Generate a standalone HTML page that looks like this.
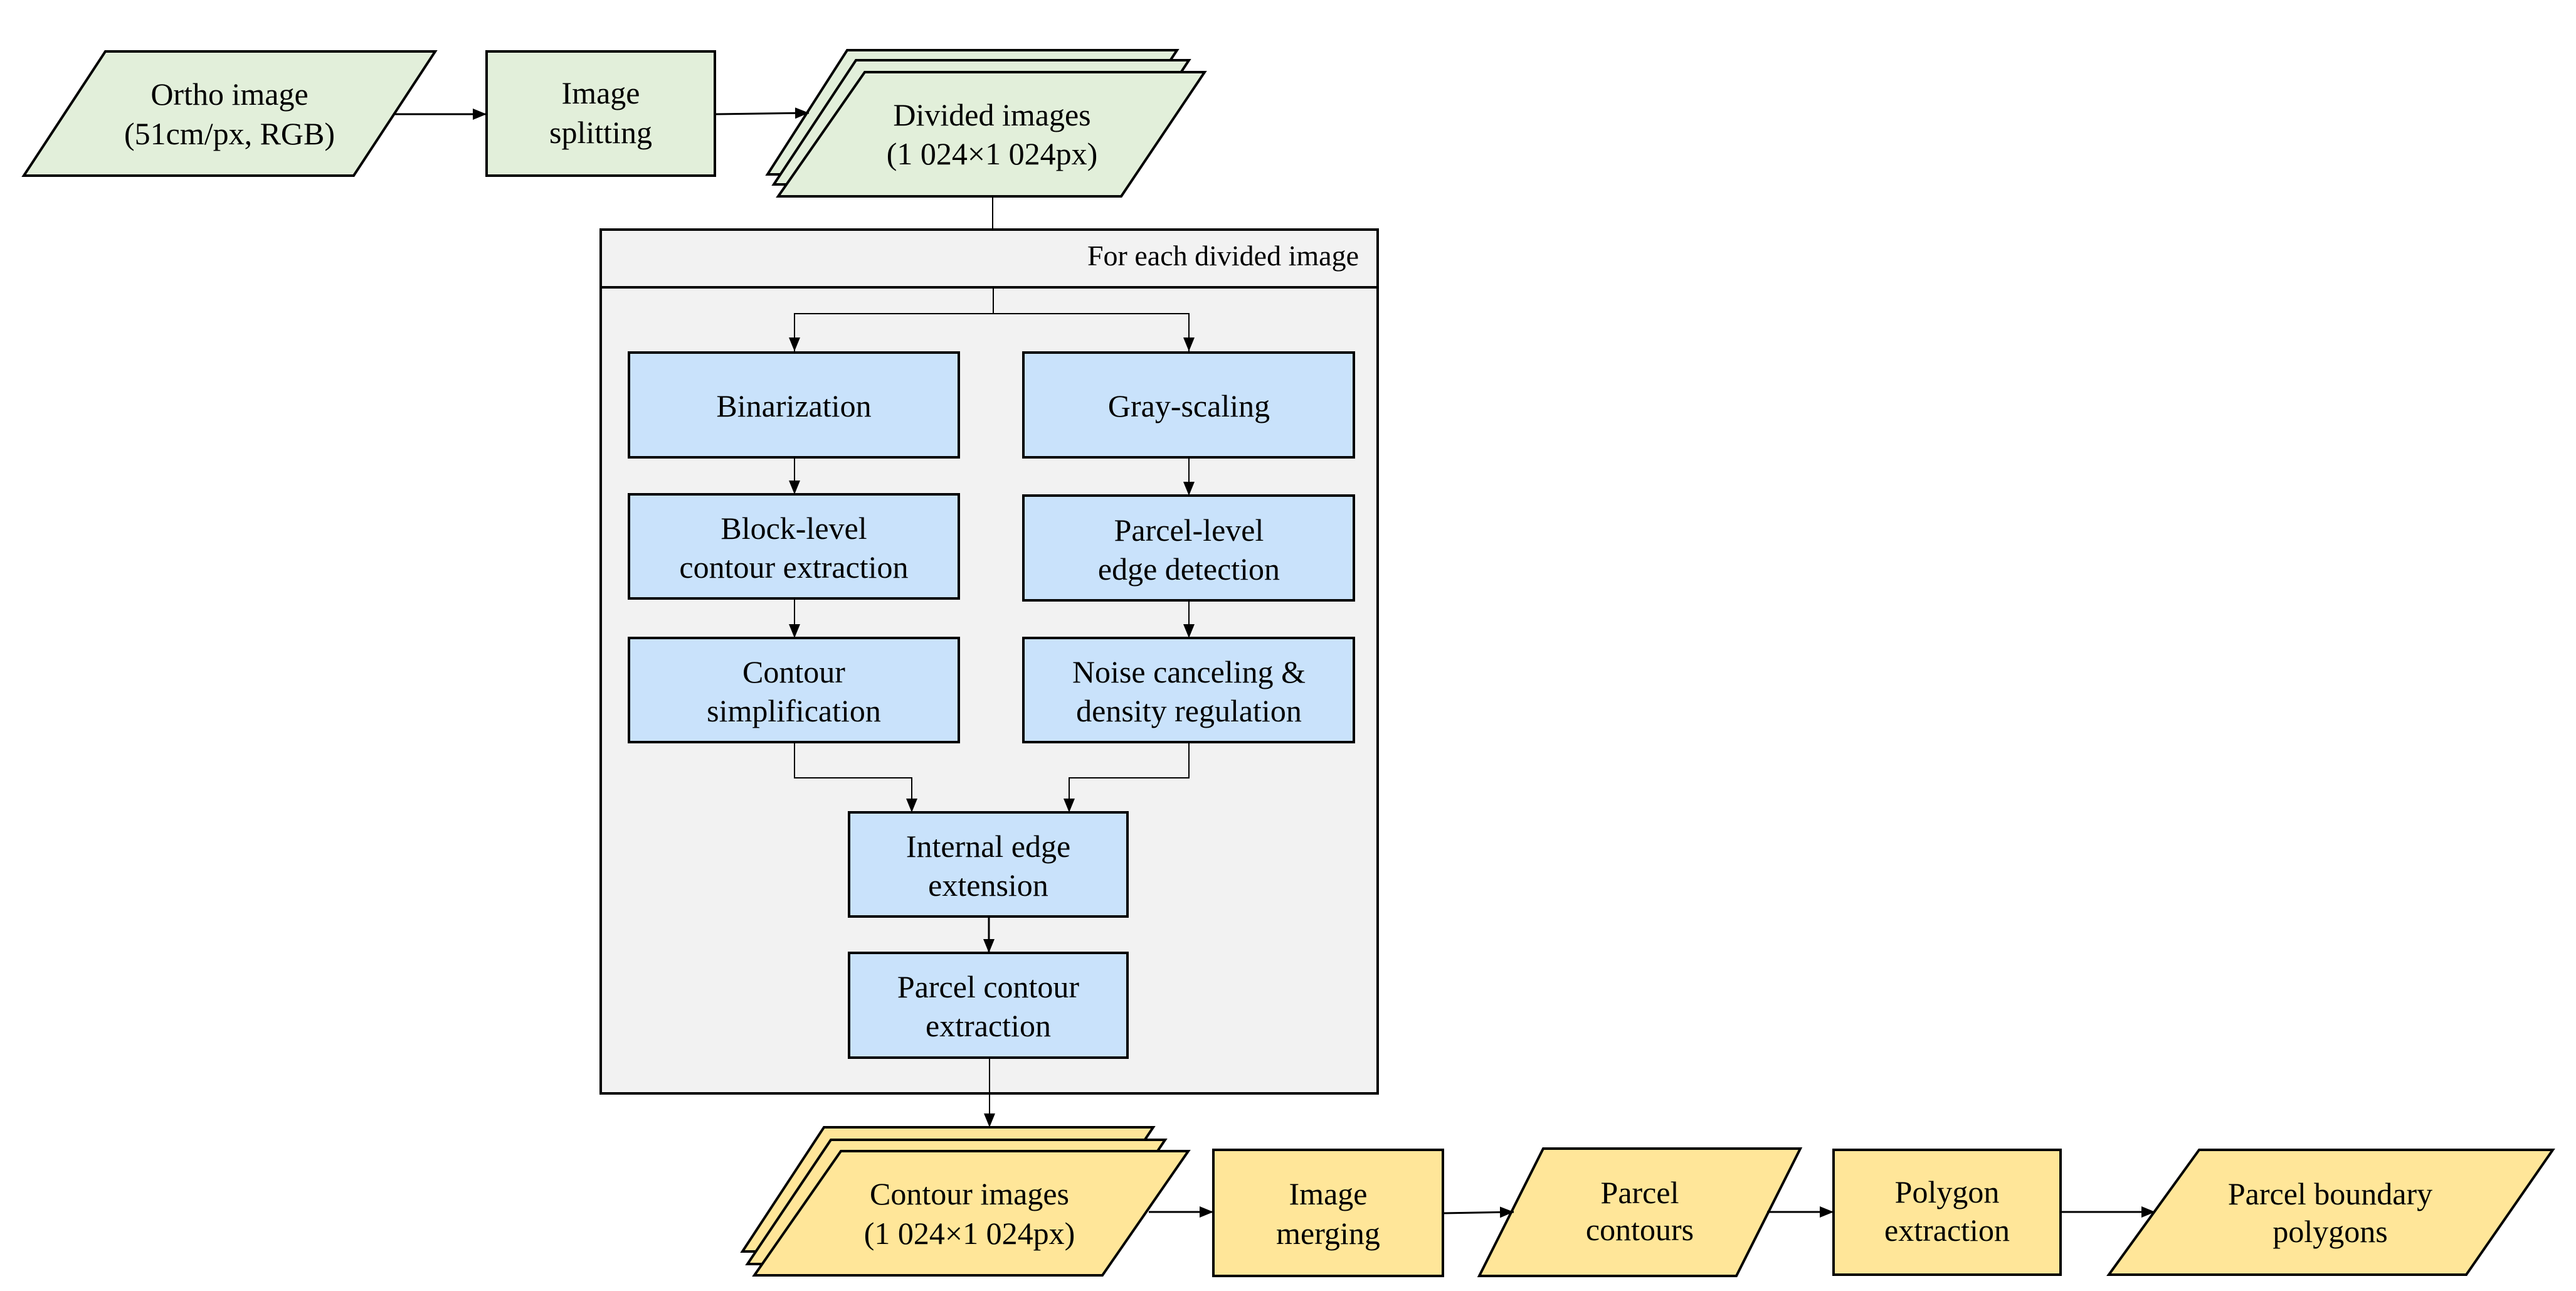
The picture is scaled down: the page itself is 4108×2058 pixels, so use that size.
<!DOCTYPE html>
<html><head><meta charset="utf-8"><style>
html,body{margin:0;padding:0;background:#fff}
svg{display:block}
text{font-family:"Liberation Serif",serif;fill:#000}
.o{font-size:50px}
.i{font-size:50px}
</style></head><body>
<svg width="4108" height="2058" viewBox="0 0 4108 2058" xmlns="http://www.w3.org/2000/svg">
<defs>
<marker id="a" markerWidth="22" markerHeight="18" refX="22" refY="9" orient="auto" markerUnits="userSpaceOnUse">
<path d="M0,0 L22,9 L0,18 Z" fill="#000"/></marker>
</defs>
<polygon points="168,82 694,82 564,280 38,280" fill="#e2efda" stroke="#000" stroke-width="4"/>
<text class="o" x="366" y="167" text-anchor="middle">Ortho image</text>
<text class="o" x="366" y="230" text-anchor="middle">(51cm/px, RGB)</text>
<rect x="776" y="82" width="364" height="198" fill="#e2efda" stroke="#000" stroke-width="4"/>
<text class="o" x="958" y="165" text-anchor="middle">Image</text>
<text class="o" x="958" y="228" text-anchor="middle">splitting</text>
<polygon points="1351,80 1877,80 1747,278 1224,278" fill="#e2efda" stroke="#000" stroke-width="4"/>
<polygon points="1365,96 1896,96 1766,294 1234,294" fill="#e2efda" stroke="#000" stroke-width="4"/>
<polygon points="1379,115 1921,115 1788,313 1241,313" fill="#e2efda" stroke="#000" stroke-width="4"/>
<text class="o" x="1582" y="200" text-anchor="middle">Divided images</text>
<text class="o" x="1582" y="262" text-anchor="middle">(1 024×1 024px)</text>
<line x1="628" y1="182" x2="776" y2="182" stroke="#000" stroke-width="3" marker-end="url(#a)"/>
<line x1="1140" y1="182" x2="1290" y2="180" stroke="#000" stroke-width="3" marker-end="url(#a)"/>
<line x1="1583" y1="313" x2="1583" y2="366" stroke="#000" stroke-width="2"/>
<rect x="958" y="366" width="1239" height="1377" fill="#f2f2f2" stroke="#000" stroke-width="4"/>
<line x1="958" y1="458" x2="2197" y2="458" stroke="#000" stroke-width="4"/>
<text x="2167" y="423" text-anchor="end" style="font-size:46px">For each divided image</text>
<polyline points="1584,458 1584,500 1267,500 1267,560" fill="none" stroke="#000" stroke-width="2" marker-end="url(#a)"/>
<polyline points="1584,500 1896,500 1896,560" fill="none" stroke="#000" stroke-width="2" marker-end="url(#a)"/>
<g fill="#c9e2fb" stroke="#000" stroke-width="4">
<rect x="1003" y="562" width="526" height="167"/>
<rect x="1632" y="562" width="527" height="167"/>
<rect x="1003" y="788" width="526" height="166"/>
<rect x="1632" y="790" width="527" height="167"/>
<rect x="1003" y="1017" width="526" height="166"/>
<rect x="1632" y="1017" width="527" height="166"/>
<rect x="1354" y="1295" width="444" height="166"/>
<rect x="1354" y="1519" width="444" height="167"/>
</g>
<g class="i" text-anchor="middle">
<text x="1266" y="664">Binarization</text>
<text x="1896" y="664">Gray-scaling</text>
<text x="1266" y="859">Block-level</text>
<text x="1266" y="921">contour extraction</text>
<text x="1896" y="862">Parcel-level</text>
<text x="1896" y="924">edge detection</text>
<text x="1266" y="1088">Contour</text>
<text x="1266" y="1150">simplification</text>
<text x="1896" y="1088">Noise canceling &amp;</text>
<text x="1896" y="1150">density regulation</text>
<text x="1576" y="1366">Internal edge</text>
<text x="1576" y="1428">extension</text>
<text x="1576" y="1590">Parcel contour</text>
<text x="1576" y="1652">extraction</text>
</g>
<g stroke="#000" stroke-width="2" fill="none">
<line x1="1267" y1="729" x2="1267" y2="788" marker-end="url(#a)"/>
<line x1="1896" y1="729" x2="1896" y2="790" marker-end="url(#a)"/>
<line x1="1267" y1="954" x2="1267" y2="1017" marker-end="url(#a)"/>
<line x1="1896" y1="957" x2="1896" y2="1017" marker-end="url(#a)"/>
<polyline points="1267,1183 1267,1240 1454,1240 1454,1295" marker-end="url(#a)"/>
<polyline points="1896,1183 1896,1240 1705,1240 1705,1295" marker-end="url(#a)"/>
<line x1="1577" y1="1461" x2="1577" y2="1519" stroke-width="3" marker-end="url(#a)"/>
<line x1="1578" y1="1686" x2="1578" y2="1797" marker-end="url(#a)"/>
</g>
<g fill="#ffe699" stroke="#000" stroke-width="4">
<polygon points="1314,1797 1839,1797 1707,1995 1184,1995"/>
<polygon points="1325,1817 1858,1817 1725,2015 1192,2015"/>
<polygon points="1341,1835 1895,1835 1758,2033 1203,2033"/>
<rect x="1935" y="1833" width="366" height="201"/>
<polygon points="2461,1831 2871,1831 2769,2034 2359,2034"/>
<rect x="2924" y="1833" width="362" height="199"/>
<polygon points="3507,1833 4071,1833 3933,2032 3363,2032"/>
</g>
<g class="o" text-anchor="middle">
<text x="1546" y="1920">Contour images</text>
<text x="1546" y="1983">(1 024×1 024px)</text>
<text x="2118" y="1920">Image</text>
<text x="2118" y="1983">merging</text>
<text x="2615" y="1918">Parcel</text>
<text x="2615" y="1977">contours</text>
<text x="3105" y="1917">Polygon</text>
<text x="3105" y="1978">extraction</text>
<text x="3716" y="1920">Parcel boundary</text>
<text x="3716" y="1980">polygons</text>
</g>
<g stroke="#000" stroke-width="3">
<line x1="1832" y1="1932" x2="1935" y2="1932" marker-end="url(#a)"/>
<line x1="2301" y1="1934" x2="2414" y2="1932" marker-end="url(#a)"/>
<line x1="2818" y1="1932" x2="2924" y2="1932" marker-end="url(#a)"/>
<line x1="3286" y1="1932" x2="3437" y2="1932" marker-end="url(#a)"/>
</g>
</svg>
</body></html>
